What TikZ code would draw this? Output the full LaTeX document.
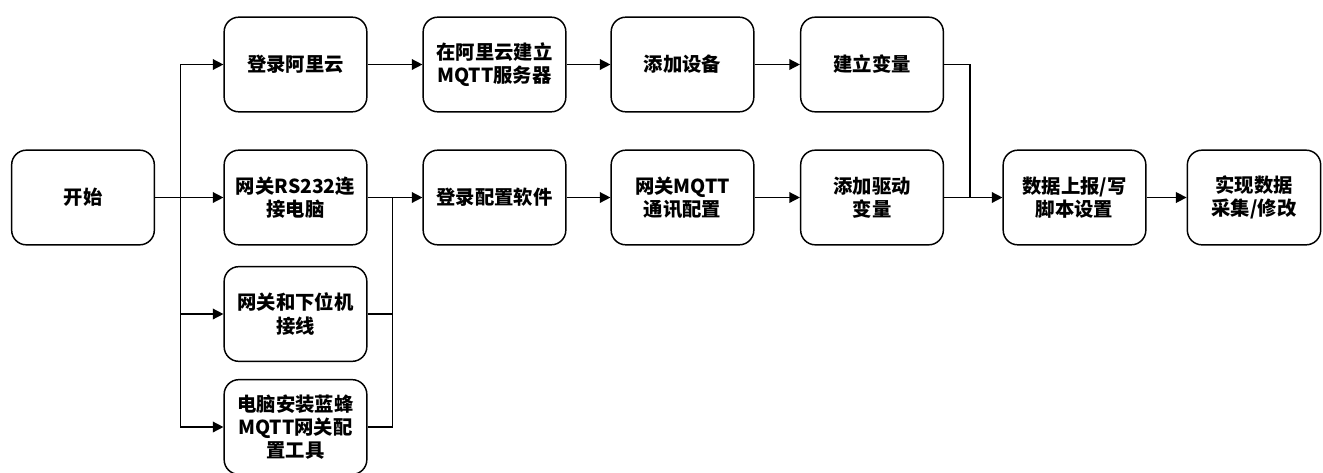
\documentclass[tikz,border=0pt]{standalone}
\usepackage{fontspec}
\setmainfont{Noto Sans CJK SC}
\usetikzlibrary{arrows.meta}
\begin{document}
\begin{tikzpicture}[x={(0.75pt,0)},y={(0,-0.75pt)},
  box/.style={draw,line width=1.1pt,rounded corners=11pt,minimum width=107pt,minimum height=71pt,align=center,font=\bfseries\fontsize{14.5}{17.5}\selectfont,inner sep=1pt},
  arr/.style={line width=1.1pt,-{Triangle[length=8pt,width=8pt]}},
  ln/.style={line width=1.1pt}]
\useasboundingbox (0,0) rectangle (1323,472);
%\draw[help lines] (0,0) grid (1323,472);
\node[box] (start) at (83,197.5) {开始};
\node[box] (login) at (295.5,64.5) {登录阿里云};
\node[box] (rs) at (295.5,197.5) {网关RS232连\\接电脑};
\node[box] (wire) at (295.5,314) {网关和下位机\\接线};
\node[box] (tool) at (295.5,427) {电脑安装蓝蜂\\MQTT网关配\\置工具};
\node[box] (server) at (494.5,64.5) {在阿里云建立\\MQTT服务器};
\node[box] (soft) at (494.5,197.5) {登录配置软件};
\node[box] (dev) at (682.5,64.5) {添加设备};
\node[box] (mqtt) at (682.5,197.5) {网关MQTT\\通讯配置};
\node[box] (var) at (872,64.5) {建立变量};
\node[box] (drv) at (872,197.5) {添加驱动\\变量};
\node[box] (script) at (1074.5,197.5) {数据上报/写\\脚本设置};
\node[box,minimum width=100pt] (done) at (1254,197.5) {实现数据\\采集/修改};
\coordinate (split) at (180.5,197.5);
\coordinate (join) at (392.5,197.5);
\coordinate (merge) at (970,197.5);
\draw[arr] (start) -- (rs);
\draw[arr] (split) |- (login);
\draw[arr] (split) |- (wire);
\draw[arr] (split) |- (tool);
\draw[ln] (wire) -| (join);
\draw[ln] (tool) -| (join);
\draw[arr] (rs) -- (soft);
\draw[arr] (login) -- (server);
\draw[arr] (server) -- (dev);
\draw[arr] (dev) -- (var);
\draw[arr] (soft) -- (mqtt);
\draw[arr] (mqtt) -- (drv);
\draw[ln] (var) -| (merge);
\draw[arr] (drv) -- (script);
\draw[arr] (script) -- (done);
\end{tikzpicture}
\end{document}
